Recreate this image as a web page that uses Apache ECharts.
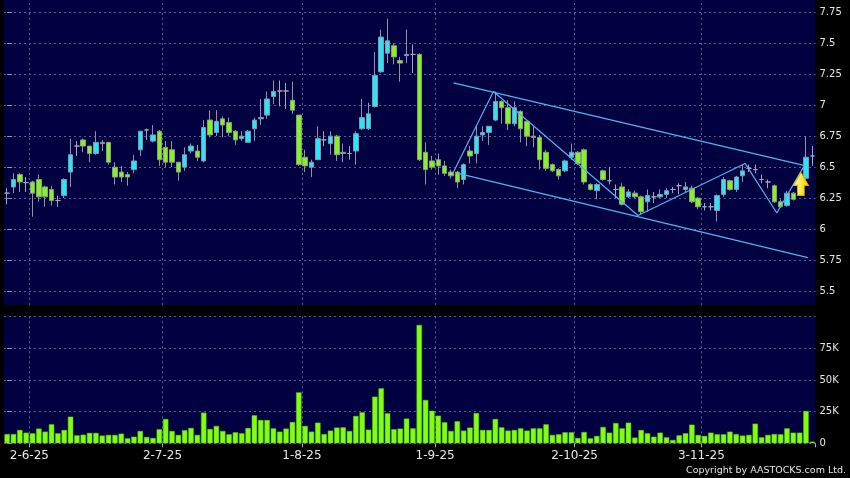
<!DOCTYPE html>
<html><head><meta charset="utf-8">
<script src="https://cdn.jsdelivr.net/npm/echarts@6/dist/echarts.min.js"></script>
<style>html,body{margin:0;padding:0;background:#000;}#c{width:850px;height:478px;}</style>
</head><body><div id="c"></div>
<script>
// ---- data ----
const priceOpen = [6.29,6.34,6.44,6.375,6.38,6.40,6.34,6.32,6.23,6.27, 6.46,6.67,6.72,6.67,6.61,6.70,6.70,6.50,6.46,6.44, 6.48,6.64,6.80,6.71,6.79,6.66,6.64,6.54,6.50,6.63, 6.63,6.55,6.88,6.78,6.89,6.86,6.79,6.73,6.70,6.81, 6.89,6.92,7.07,7.115,7.115,7.04,6.92,6.58,6.50,6.56, 6.72,6.69,6.75,6.61,6.61,6.63,6.81,6.81,6.99,7.27, 7.42,7.48,7.36,7.40,7.41,7.41,6.62,6.55,6.56,6.51, 6.46,6.46,6.40,6.63,6.61,6.76,6.78,6.88,7.03,6.98, 6.85,6.95,6.87,6.75,6.74,6.62,6.52,6.48,6.47,6.58, 6.62,6.64,6.36,6.31,6.47,6.39,6.32,6.34,6.26,6.29, 6.26,6.22,6.26,6.26,6.28,6.32,6.35,6.32,6.33,6.25, 6.18,6.18,6.15,6.28,6.39,6.32,6.43,6.49,6.48,6.40, 6.38,6.35,6.22,6.19,6.29,6.30,6.41,6.59];
const priceClose = [6.29,6.40,6.38,6.375,6.29,6.26,6.26,6.23,6.23,6.40, 6.60,6.67,6.67,6.61,6.70,6.69,6.54,6.42,6.42,6.42, 6.55,6.79,6.80,6.76,6.56,6.54,6.54,6.46,6.60,6.67, 6.58,6.82,6.76,6.87,6.84,6.78,6.72,6.75,6.79,6.88, 6.90,7.05,7.11,7.115,7.115,6.96,6.52,6.51,6.54,6.73, 6.72,6.75,6.60,6.62,6.61,6.77,6.90,6.93,7.24,7.55, 7.52,7.39,7.34,7.41,7.41,6.56,6.48,6.50,6.51,6.45, 6.43,6.38,6.52,6.59,6.75,6.78,6.83,7.03,6.98,6.85, 6.98,6.81,6.75,6.74,6.56,6.49,6.47,6.43,6.55,6.62, 6.53,6.38,6.32,6.36,6.40,6.39,6.32,6.20,6.30,6.26, 6.14,6.27,6.26,6.28,6.31,6.32,6.35,6.34,6.22,6.18, 6.18,6.18,6.27,6.40,6.32,6.42,6.47,6.49,6.48,6.40, 6.38,6.22,6.18,6.29,6.24,6.34,6.58,6.59];
const priceLow = [6.20,6.29,6.30,6.30,6.10,6.22,6.18,6.19,6.18,6.25, 6.34,6.59,6.62,6.54,6.60,6.63,6.52,6.36,6.38,6.35, 6.45,6.59,6.72,6.70,6.51,6.50,6.50,6.39,6.47,6.61, 6.55,6.54,6.74,6.75,6.74,6.75,6.68,6.71,6.70,6.71, 6.84,6.89,7.01,6.99,6.97,6.93,6.51,6.46,6.42,6.56, 6.67,6.60,6.55,6.54,6.56,6.52,6.80,6.80,6.98,7.26, 7.34,7.33,7.19,7.34,7.26,6.55,6.36,6.48,6.44,6.43, 6.41,6.33,6.36,6.53,6.53,6.71,6.68,6.87,6.85,6.80, 6.83,6.70,6.67,6.66,6.48,6.47,6.46,6.40,6.46,6.56, 6.52,6.36,6.31,6.24,6.39,6.36,6.25,6.19,6.25,6.25, 6.12,6.14,6.21,6.25,6.25,6.29,6.28,6.29,6.21,6.16, 6.15,6.15,6.06,6.26,6.31,6.30,6.38,6.46,6.45,6.37, 6.33,6.21,6.17,6.18,6.23,6.27,6.40,6.51];
const priceHigh = [6.33,6.45,6.45,6.42,6.39,6.44,6.35,6.35,6.27,6.41, 6.73,6.71,6.73,6.67,6.79,6.72,6.70,6.54,6.51,6.46, 6.60,6.79,6.81,6.84,6.80,6.71,6.71,6.54,6.66,6.69, 6.68,6.88,6.96,6.96,6.91,6.90,6.80,6.79,6.80,6.90, 7.05,7.11,7.20,7.20,7.18,7.19,6.92,6.64,6.56,6.83, 6.79,6.79,6.76,6.69,6.67,6.79,7.05,7.02,7.43,7.61, 7.70,7.50,7.39,7.61,7.49,7.42,6.70,6.59,6.61,6.55, 6.48,6.47,6.53,6.67,6.83,6.83,6.83,7.11,7.04,7.04, 7.03,6.96,6.87,6.83,6.76,6.64,6.53,6.49,6.56,6.69, 6.63,6.65,6.37,6.37,6.48,6.50,6.36,6.37,6.32,6.31, 6.27,6.32,6.30,6.32,6.33,6.34,6.37,6.38,6.35,6.26, 6.21,6.21,6.28,6.42,6.40,6.43,6.52,6.52,6.52,6.44, 6.40,6.36,6.24,6.31,6.30,6.40,6.75,6.67];
const volumeK = [7.3,7.3,10.5,8.4,7.9,11.6,9.2,15,7.9,10.5, 21,6.3,6.8,8.2,8.2,6.1,6.6,6.6,7.6,3.9, 5.2,9.7,5,4.2,11.1,19.2,9.7,6.6,10.3,12.1, 6.6,24.2,11.3,13.7,9.7,7.1,8.7,7.9,12.1,22.1, 18.4,18.4,11.8,9.2,11.6,16.8,40.2,13.7,9.2,16.3, 7.3,10,12.4,12.6,9.7,21.6,24.5,10.8,36.8,43.4, 23.7,11.1,11.6,19.5,11.8,93.4,34.2,25.7,21.8,16.6, 9.7,17.4,10,12.4,23.9,10.5,10.5,19.2,12.6,10, 10.5,11.8,10,11.8,11.8,15,6.6,7.1,8.7,8.7, 4.2,8.9,3.9,5.8,12.9,8.4,16,11.8,16.3,4.5, 10.5,7.9,5.2,8.4,4.7,2.6,6.3,7.9,14.7,6.6, 5.8,8.4,7.1,7.1,9.2,7.3,6.1,6.6,15.5,4.7, 6.6,7.3,7.1,11.8,8.4,8.4,25.5,1.3];

// month-start tick positions (candle index) and their labels
const tickIndex = [4, 25, 47, 68, 90, 110];
const tickLabels = ['2-6-25', '2-7-25', '1-8-25', '1-9-25', '2-10-25', '3-11-25'];

// price axis ticks / volume axis ticks
const priceMin = 5.5, priceMax = 7.75, priceStep = 0.25;
const volMax = 100, volStep = 25;

// drawn annotations, in data coordinates [candle index, price]
const upperChannel = [[70.4, 7.18], [126.0, 6.51]];
const lowerChannel = [[71.1, 6.45], [126.3, 5.77]];
const zigzag = [[70.4, 6.46], [76.7, 7.11], [99.5, 6.11], [116.4, 6.53], [121.4, 6.13], [125.6, 6.50]];
const arrowAt = [[125.2, 6.365]];

// ---- chart ----
const N = priceOpen.length;
const categories = priceOpen.map((_, i) => String(i));
const candles = priceOpen.map((o, i) => [o, priceClose[i], priceLow[i], priceHigh[i]]);

const NAVY = '#010142';
const GRID = '#5c5c92';
const LINE = '#52b4ec';
const TXT = '#e6e6e6';
const FONT = 'DejaVu Sans';

const L = 4, W = 811.5;
const band = W / N;

const chart = echarts.init(document.getElementById('c'), null, {renderer: 'canvas'});
const hiddenX = (grid) => ({type: 'value', gridIndex: grid, min: -0.5, max: N - 0.5, show: false});
const vLines = tickIndex.map(k => ({xAxis: k - 0.5}));
const gridLineMark = {
  silent: true, symbol: 'none', z: 1, animation: false,
  label: {show: false},
  lineStyle: {color: GRID, type: [2, 3], width: 1},
  data: vLines
};

chart.setOption({
  animation: false,
  backgroundColor: '#000',
  textStyle: {fontFamily: FONT},
  grid: [
    {left: L, width: W, top: 12.3, height: 278.7, show: false},
    {left: L, width: W, top: 316.6, height: 126.7, show: true, backgroundColor: NAVY, borderWidth: 0},
    {left: L, width: W, top: 0, height: 305, show: true, backgroundColor: NAVY, borderWidth: 0, z: -1}
  ],
  xAxis: [
    {type: 'category', gridIndex: 0, data: categories, boundaryGap: true, show: false},
    {type: 'category', gridIndex: 1, data: categories, boundaryGap: true, position: 'bottom', offset: 3,
      axisLine: {show: false},
      axisTick: {show: true, length: 4, interval: (i) => tickIndex.includes(i), lineStyle: {color: '#aaaaaa'}},
      axisLabel: {show: true, interval: (i) => tickIndex.includes(i), color: TXT, fontSize: 12, margin: 4,
        padding: [0, band, 0, 0],
        formatter: (v, i) => tickLabels[tickIndex.indexOf(i)] || ''},
      splitLine: {show: false}
    },
    hiddenX(0),
    hiddenX(1),
    hiddenX(2)
  ],
  yAxis: [
    {type: 'value', gridIndex: 0, position: 'right', min: priceMin, max: priceMax, interval: priceStep,
      axisLine: {show: false},
      axisTick: {show: true, length: 5, lineStyle: {color: '#999999'}},
      axisLabel: {color: TXT, fontSize: 10, margin: 4},
      splitLine: {show: true, lineStyle: {color: GRID, type: [2, 3], width: 1}}
    },
    {type: 'value', gridIndex: 1, position: 'right', min: 0, max: volMax, interval: volStep,
      axisLine: {show: false},
      axisTick: {show: true, length: 5, lineStyle: {color: '#999999'}},
      axisLabel: {color: TXT, fontSize: 10, margin: 4, showMaxLabel: false,
        formatter: (v) => v === 0 ? '0' : v + 'K'},
      splitLine: {show: true, lineStyle: {color: GRID, type: [2, 3], width: 1}}
    },
    {type: 'value', gridIndex: 2, min: 0, max: 1, show: false}
  ],
  series: [
    {type: 'line', xAxisIndex: 4, yAxisIndex: 2, data: [[-5, -5]], showSymbol: false, silent: true,
      markLine: gridLineMark},
    {type: 'line', xAxisIndex: 3, yAxisIndex: 1, data: [[-5, -5]], showSymbol: false, silent: true,
      markLine: gridLineMark},
    {type: 'candlestick', xAxisIndex: 0, yAxisIndex: 0, data: candles, barWidth: 5, z: 2,
      itemStyle: {color: '#22e8fa', color0: '#84f41e', borderColor: '#8e93a8', borderColor0: '#8e9a8a',
        borderColorDoji: '#a6a6b6', borderWidth: 1}
    },
    {type: 'bar', xAxisIndex: 1, yAxisIndex: 1, data: volumeK, barWidth: 5.4, z: 2,
      itemStyle: {color: '#80ff10', borderColor: '#5cc41a', borderWidth: 0.5}
    },
    {type: 'line', xAxisIndex: 2, yAxisIndex: 0, data: upperChannel, showSymbol: false, z: 3,
      lineStyle: {color: LINE, width: 1.2}},
    {type: 'line', xAxisIndex: 2, yAxisIndex: 0, data: lowerChannel, showSymbol: false, z: 3,
      lineStyle: {color: LINE, width: 1.2}},
    {type: 'line', xAxisIndex: 2, yAxisIndex: 0, data: zigzag, showSymbol: false, z: 3,
      lineStyle: {color: LINE, width: 1.2}},
    {type: 'scatter', xAxisIndex: 2, yAxisIndex: 0, data: arrowAt, z: 4,
      symbol: 'path://M7.5,0 L15,13 L10.8,13 L10.8,23 L4.2,23 L4.2,13 L0,13 Z',
      symbolSize: [15, 23], symbolKeepAspect: false,
      itemStyle: {
        opacity: 1,
        color: {type: 'linear', x: 0, y: 0, x2: 1, y2: 0, colorStops: [
          {offset: 0, color: '#fffcc8'}, {offset: 0.4, color: '#ffee55'}, {offset: 1, color: '#f7c800'}]},
        borderColor: '#e0b000', borderWidth: 1
      }
    }
  ],
  graphic: [
    {type: 'text', right: 4, top: 466, silent: true,
      style: {text: 'Copyright by AASTOCKS.com Ltd.', fill: TXT, font: '9.5px "DejaVu Sans"'}}
  ]
});
</script></body></html>
